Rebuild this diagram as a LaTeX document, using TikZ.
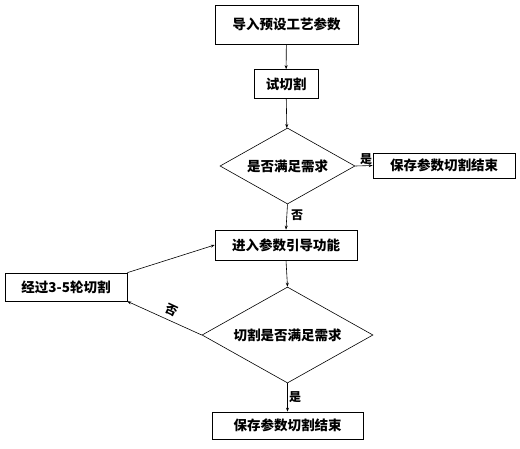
\documentclass[tikz,border=0pt]{standalone}
\usepackage{fontspec}
\newfontfamily\cjk{Noto Sans CJK SC}
\usetikzlibrary{shapes.geometric}
\usetikzlibrary{arrows.meta}

\begin{document}
\begin{tikzpicture}[x=1pt, y=-1pt,
  box/.style={draw, line width=0.7pt, inner sep=0pt, font=\cjk\bfseries\fontsize{13.5}{15}\selectfont},
  dia/.style={draw, diamond, line width=0.6pt, inner sep=0pt, font=\cjk\bfseries\fontsize{13.5}{15}\selectfont},
  lab/.style={inner sep=0pt, font=\cjk\bfseries\fontsize{12}{13}\selectfont},
  arr/.style={-{Stealth[length=4pt,width=3pt]}, line width=0.6pt}]
\useasboundingbox (0,0) rectangle (520,448);

\node[box, minimum width=143pt, minimum height=39pt] (b1) at (286.5,24.5) {导入预设工艺参数};
\node[box, minimum width=64pt, minimum height=29pt] (b2) at (286,84) {试切割};
\node[dia, aspect=1.75, minimum width=135pt, minimum height=76pt] (d1) at (287.5,166) {是否满足需求};
\node[box, minimum width=142pt, minimum height=25pt] (s1) at (444,165.5) {保存参数切割结束};

\node[box, minimum width=142pt, minimum height=30pt] (jr) at (286,245) {进入参数引导功能};
\node[box, minimum width=122pt, minimum height=28pt] (jg) at (66,287) {经过3-5轮切割};
\node[dia, aspect=1.8, minimum width=171pt, minimum height=96pt] (d2) at (287.5,335) {切割是否满足需求};
\node[box, minimum width=151pt, minimum height=27pt] (s2) at (287.5,425.5) {保存参数切割结束};

% labels
\node[lab] (y1) at (366,159) {是};
\node[lab] (n1) at (297,215) {否};
\node[lab, rotate=-25] (n2) at (172,310) {否};
\node[lab] (y2) at (295,397) {是};

\draw[arr] (b1) -- (b2);
\draw[arr] (b2) -- (d1);
\draw[arr] (d1.east) -- (s1.west);
\draw[arr] (d1.south) -- (jr.north);
\draw[arr] (jr.south) -- (d2.north);
\draw[arr] (d2.south) -- (s2.north);
\draw[arr] (d2.west) -- (jg.south east);
\draw[arr] (jg.north east) -- (jr.west);
\end{tikzpicture}
\end{document}
